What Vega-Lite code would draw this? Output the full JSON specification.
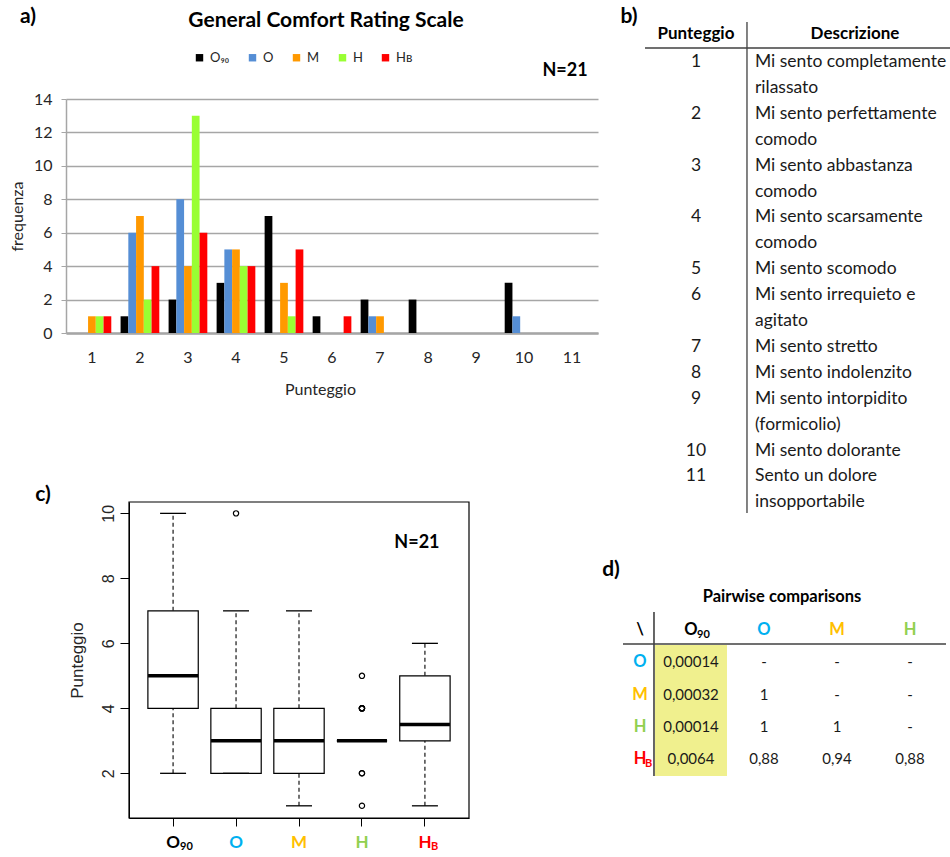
{
  "$schema": "https://vega.github.io/schema/vega-lite/v6.json",
  "width": 950,
  "height": 857,
  "padding": 0,
  "autosize": {"type": "none"},
  "background": "white",
  "config": {"view": {"stroke": null}, "font": "Lato"},
  "resolve": {
    "scale": {"x": "independent", "y": "independent", "color": "independent"},
    "axis": {"x": "independent", "y": "independent"},
    "legend": {"color": "independent"}
  },
  "layer": [
    {
      "data": {"values": [
        {"g":"O90","lower":2,"q1":4,"median":5,"q3":7,"upper":10},
        {"g":"O","lower":2,"q1":2,"median":3,"q3":4,"upper":7},
        {"g":"M","lower":1,"q1":2,"median":3,"q3":4,"upper":7},
        {"g":"H","lower":3,"q1":3,"median":3,"q3":3,"upper":3},
        {"g":"HB","lower":1,"q1":3,"median":3.5,"q3":5,"upper":6}
      ]},
      "resolve": {"axis": {"x": "independent", "y": "independent"}},
      "layer": [
        {
          "mark": {"type": "rule", "strokeDash": [4, 3], "strokeWidth": 1.1, "color": "black"},
          "encoding": {"x": {"field": "g", "type": "nominal", "axis": null}, "y": {"field": "q3", "type": "quantitative", "axis": null}, "y2": {"field": "upper"}}
        },
        {
          "mark": {"type": "rule", "strokeDash": [4, 3], "strokeWidth": 1.1, "color": "black"},
          "encoding": {"x": {"field": "g", "type": "nominal", "axis": null}, "y": {"field": "lower", "type": "quantitative", "axis": null}, "y2": {"field": "q1"}}
        },
        {
          "mark": {"type": "bar", "fill": "white", "stroke": "black", "strokeWidth": 1.2, "width": {"band": 0.8}, "opacity": 1},
          "encoding": {
            "x": {"field": "g", "type": "nominal", "sort": ["O90","O","M","H","HB"],
              "scale": {"domain": ["O90","O","M","H","HB"], "range": [129, 469], "paddingInner": 0, "paddingOuter": 0.2},
              "axis": {"orient": "bottom", "offset": -39, "title": null, "labelAngle": 0, "tickSize": 8, "tickColor": "black", "domainColor": "black",
                "labelPadding": 8, "labelFontSize": 17, "labelFontWeight": "bold",
                "labelExpr": "datum.value == 'O90' ? 'O' : datum.value == 'HB' ? 'H' : datum.value",
                "labelColor": {"condition": [
                  {"test": "datum.value == 'O'", "value": "#00B0F0"},
                  {"test": "datum.value == 'M'", "value": "#FFC000"},
                  {"test": "datum.value == 'H'", "value": "#92D050"},
                  {"test": "datum.value == 'HB'", "value": "#FF0000"}
                ], "value": "#000000"}}},
            "y": {"field": "q1", "type": "quantitative",
              "scale": {"domain": [0.625, 10.35], "range": [818, 502], "nice": false, "zero": false},
              "axis": {"orient": "left", "offset": -129, "values": [2,4,6,8,10], "grid": false, "tickSize": 9, "tickColor": "black", "domainColor": "black",
                "labelAngle": 270, "labelAlign": "center", "labelBaseline": "bottom", "labelFont": "Liberation Sans", "labelFontSize": 16, "labelColor": "#262626", "labelPadding": 4,
                "title": "Punteggio", "titleFont": "Liberation Sans", "titleFontSize": 17, "titleFontWeight": "normal", "titleColor": "#262626", "titleX": -52, "titleBaseline": "middle"}},
            "y2": {"field": "q3"}
          }
        },
        {
          "data": {"values": [{}]},
          "mark": {"type": "rect", "fill": null, "fillOpacity": 0, "stroke": "black", "strokeWidth": 1.2},
          "encoding": {
            "x": {"datum": "O90", "type": "nominal", "bandPosition": -0.2, "axis": null},
            "x2": {"datum": "HB", "bandPosition": 1.2},
            "y": {"datum": 0.625, "type": "quantitative", "axis": null},
            "y2": {"datum": 10.35}
          }
        },
        {
          "mark": {"type": "tick", "color": "black", "thickness": 3.5, "size": 50, "opacity": 1},
          "encoding": {"x": {"field": "g", "type": "nominal", "axis": null}, "y": {"field": "median", "type": "quantitative", "axis": null}}
        },
        {
          "mark": {"type": "tick", "color": "black", "thickness": 1.3, "size": 26, "opacity": 1},
          "encoding": {"x": {"field": "g", "type": "nominal", "axis": null}, "y": {"field": "upper", "type": "quantitative", "axis": null}}
        },
        {
          "mark": {"type": "tick", "color": "black", "thickness": 1.3, "size": 26, "opacity": 1},
          "encoding": {"x": {"field": "g", "type": "nominal", "axis": null}, "y": {"field": "lower", "type": "quantitative", "axis": null}}
        },
        {
          "data": {"values": [
            {"g":"O","v":10},
            {"g":"H","v":1},{"g":"H","v":2},{"g":"H","v":2},
            {"g":"H","v":4},{"g":"H","v":4},{"g":"H","v":4},{"g":"H","v":4},
            {"g":"H","v":5}
          ]},
          "mark": {"type": "point", "filled": false, "color": "black", "size": 28, "strokeWidth": 1.2, "opacity": 1},
          "encoding": {
            "x": {"field": "g", "type": "nominal", "axis": null},
            "y": {"field": "v", "type": "quantitative", "axis": null}
          }
        },
        {
          "data": {"values": [{}]},
          "mark": {"type": "text", "fontSize": 18, "fontWeight": "bold", "dx": -8},
          "encoding": {"x": {"datum": "HB", "type": "nominal", "axis": null}, "y": {"datum": 9.09, "type": "quantitative", "axis": null}, "text": {"value": "N=21"}}
        },
        {
          "data": {"values": [{}]},
          "mark": {"type": "text", "fontSize": 21, "fontWeight": "bold", "dx": -130},
          "encoding": {"x": {"datum": "O90", "type": "nominal", "axis": null}, "y": {"datum": 10.57, "type": "quantitative", "axis": null}, "text": {"value": "c)"}}
        },
        {
          "data": {"values": [{}]},
          "mark": {"type": "text", "fontSize": 11, "fontWeight": "bold", "align": "left", "dx": 7, "color": "#000000"},
          "encoding": {"x": {"datum": "O90", "type": "nominal", "axis": null}, "y": {"datum": -0.27, "type": "quantitative", "axis": null}, "text": {"value": "90"}}
        },
        {
          "data": {"values": [{}]},
          "mark": {"type": "text", "fontSize": 11, "fontWeight": "bold", "align": "left", "dx": 6, "color": "#FF0000"},
          "encoding": {"x": {"datum": "HB", "type": "nominal", "axis": null}, "y": {"datum": -0.27, "type": "quantitative", "axis": null}, "text": {"value": "B"}}
        }
      ]
    },
    {
      "data": {"values": [
        {"p":1,"g":"O90","n":0},{"p":1,"g":"O","n":0},{"p":1,"g":"M","n":1},{"p":1,"g":"H","n":1},{"p":1,"g":"HB","n":1},
        {"p":2,"g":"O90","n":1},{"p":2,"g":"O","n":6},{"p":2,"g":"M","n":7},{"p":2,"g":"H","n":2},{"p":2,"g":"HB","n":4},
        {"p":3,"g":"O90","n":2},{"p":3,"g":"O","n":8},{"p":3,"g":"M","n":4},{"p":3,"g":"H","n":13},{"p":3,"g":"HB","n":6},
        {"p":4,"g":"O90","n":3},{"p":4,"g":"O","n":5},{"p":4,"g":"M","n":5},{"p":4,"g":"H","n":4},{"p":4,"g":"HB","n":4},
        {"p":5,"g":"O90","n":7},{"p":5,"g":"O","n":0},{"p":5,"g":"M","n":3},{"p":5,"g":"H","n":1},{"p":5,"g":"HB","n":5},
        {"p":6,"g":"O90","n":1},{"p":6,"g":"O","n":0},{"p":6,"g":"M","n":0},{"p":6,"g":"H","n":0},{"p":6,"g":"HB","n":1},
        {"p":7,"g":"O90","n":2},{"p":7,"g":"O","n":1},{"p":7,"g":"M","n":1},{"p":7,"g":"H","n":0},{"p":7,"g":"HB","n":0},
        {"p":8,"g":"O90","n":2},{"p":8,"g":"O","n":0},{"p":8,"g":"M","n":0},{"p":8,"g":"H","n":0},{"p":8,"g":"HB","n":0},
        {"p":9,"g":"O90","n":0},{"p":9,"g":"O","n":0},{"p":9,"g":"M","n":0},{"p":9,"g":"H","n":0},{"p":9,"g":"HB","n":0},
        {"p":10,"g":"O90","n":3},{"p":10,"g":"O","n":1},{"p":10,"g":"M","n":0},{"p":10,"g":"H","n":0},{"p":10,"g":"HB","n":0},
        {"p":11,"g":"O90","n":0},{"p":11,"g":"O","n":0},{"p":11,"g":"M","n":0},{"p":11,"g":"H","n":0},{"p":11,"g":"HB","n":0}
      ]},
      "resolve": {"axis": {"x": "independent", "y": "independent"}},
      "layer": [
        {
          "mark": {"type": "bar"},
          "encoding": {
            "x": {"field": "p", "type": "ordinal", "sort": [1,2,3,4,5,6,7,8,9,10,11],
              "scale": {"domain": [1,2,3,4,5,6,7,8,9,10,11], "range": [66, 598], "paddingOuter": 0.04, "paddingInner": 0},
              "axis": {"orient": "bottom", "offset": -524, "tickSize": 0, "tickColor": "#A6A6A6", "domainColor": "#A6A6A6", "domainWidth": 2.5,
                "labelPadding": 16, "labelFontSize": 16, "labelAngle": 0, "labelColor": "#262626",
                "title": "Punteggio", "titleFontSize": 16, "titleFontWeight": "normal", "titleColor": "#262626", "titlePadding": 16, "titleX": 320}},
            "xOffset": {"field": "g", "type": "nominal", "sort": ["O90","O","M","H","HB"],
              "scale": {"domain": ["O90","O","M","H","HB"], "paddingOuter": 0.6, "paddingInner": 0}},
            "y": {"field": "n", "type": "quantitative",
              "scale": {"domain": [0, 14], "range": [333, 99], "nice": false, "zero": false},
              "axis": {"orient": "left", "offset": -66, "values": [0,2,4,6,8,10,12,14], "grid": true, "gridColor": "#A6A6A6", "gridWidth": 1.3,
                "domainColor": "#A6A6A6", "domainWidth": 1.5, "tickColor": "#A6A6A6", "tickSize": 5, "labelPadding": 9, "labelFontSize": 16, "labelColor": "#262626",
                "title": "frequenza", "titleFontSize": 16, "titleFontWeight": "normal", "titleColor": "#262626", "titleX": -49, "titleBaseline": "middle"}},
            "color": {"field": "g", "type": "nominal",
              "scale": {"domain": ["O90","O","M","H","HB"], "range": ["#000000","#558ED5","#FF9900","#99FF33","#FF0000"]},
              "legend": {"orient": "none", "legendX": 193, "legendY": 51, "direction": "horizontal", "title": null,
                "symbolType": "square", "symbolSize": 55, "symbolStrokeWidth": 0, "labelFontSize": 13, "columnPadding": 16, "labelColor": "#262626",
                "labelExpr": "datum.label == 'O90' ? 'O₉₀' : datum.label == 'HB' ? 'Hʙ' : datum.label"}}
          }
        },
        {
          "data": {"values": [{}]},
          "mark": {"type": "text", "fontSize": 21, "fontWeight": "bold", "dx": -6},
          "encoding": {"x": {"datum": 6, "type": "ordinal", "axis": null}, "y": {"datum": 18.67, "type": "quantitative", "axis": null},
            "text": {"value": "General Comfort Rating Scale"}}
        },
        {
          "data": {"values": [{}]},
          "mark": {"type": "text", "fontSize": 21, "fontWeight": "bold", "dx": -64},
          "encoding": {"x": {"datum": 1, "type": "ordinal", "axis": null}, "y": {"datum": 18.9, "type": "quantitative", "axis": null},
            "text": {"value": "a)"}}
        },
        {
          "data": {"values": [{}]},
          "mark": {"type": "text", "fontSize": 18, "fontWeight": "bold", "dx": -7},
          "encoding": {"x": {"datum": 11, "type": "ordinal", "axis": null}, "y": {"datum": 15.7, "type": "quantitative", "axis": null},
            "text": {"value": "N=21"}}
        }
      ]
    },
    {
      "data": {"values": [
        {"line":0,"score":"1","desc":"Mi sento completamente"},
        {"line":1,"score":"","desc":"rilassato"},
        {"line":2,"score":"2","desc":"Mi sento perfettamente"},
        {"line":3,"score":"","desc":"comodo"},
        {"line":4,"score":"3","desc":"Mi sento abbastanza"},
        {"line":5,"score":"","desc":"comodo"},
        {"line":6,"score":"4","desc":"Mi sento scarsamente"},
        {"line":7,"score":"","desc":"comodo"},
        {"line":8,"score":"5","desc":"Mi sento scomodo"},
        {"line":9,"score":"6","desc":"Mi sento irrequieto e"},
        {"line":10,"score":"","desc":"agitato"},
        {"line":11,"score":"7","desc":"Mi sento stretto"},
        {"line":12,"score":"8","desc":"Mi sento indolenzito"},
        {"line":13,"score":"9","desc":"Mi sento intorpidito"},
        {"line":14,"score":"","desc":"(formicolio)"},
        {"line":15,"score":"10","desc":"Mi sento dolorante"},
        {"line":16,"score":"11","desc":"Sento un dolore"},
        {"line":17,"score":"","desc":"insopportabile"}
      ]},
      "layer": [
        {
          "data": {"values": [{}]},
          "mark": {"type": "rule", "color": "#595959", "strokeWidth": 1.5},
          "encoding": {
            "x": {"datum": 0.3848, "type": "quantitative", "scale": {"domain": [0, 1], "range": [620, 950], "nice": false, "zero": false}, "axis": null},
            "y": {"datum": -1.544, "type": "quantitative", "scale": {"domain": [0, 17], "range": [62, 502.3], "nice": false, "zero": false}, "axis": null},
            "y2": {"datum": 17.41}
          }
        },
        {
          "data": {"values": [{}]},
          "mark": {"type": "rule", "color": "#404040", "strokeWidth": 1.5},
          "encoding": {
            "x": {"datum": 0.0758, "type": "quantitative", "axis": null},
            "x2": {"datum": 1.0},
            "y": {"datum": -0.54, "type": "quantitative", "axis": null}
          }
        },
        {
          "data": {"values": [{}]},
          "mark": {"type": "text", "fontSize": 17, "fontWeight": "bold"},
          "encoding": {"x": {"datum": 0.2303, "type": "quantitative", "axis": null}, "y": {"datum": -1.081, "type": "quantitative", "axis": null}, "text": {"value": "Punteggio"}}
        },
        {
          "data": {"values": [{}]},
          "mark": {"type": "text", "fontSize": 17, "fontWeight": "bold"},
          "encoding": {"x": {"datum": 0.7121, "type": "quantitative", "axis": null}, "y": {"datum": -1.081, "type": "quantitative", "axis": null}, "text": {"value": "Descrizione"}}
        },
        {
          "data": {"values": [{}]},
          "mark": {"type": "text", "fontSize": 21, "fontWeight": "bold"},
          "encoding": {"x": {"datum": 0.0273, "type": "quantitative", "axis": null}, "y": {"datum": -1.737, "type": "quantitative", "axis": null}, "text": {"value": "b)"}}
        },
        {
          "mark": {"type": "text", "fontSize": 17.5, "color": "#1a1a1a"},
          "encoding": {"x": {"datum": 0.2303, "type": "quantitative", "axis": null}, "y": {"field": "line", "type": "quantitative", "axis": null}, "text": {"field": "score", "type": "nominal"}}
        },
        {
          "mark": {"type": "text", "fontSize": 17.5, "align": "left", "color": "#1a1a1a"},
          "encoding": {"x": {"datum": 0.409, "type": "quantitative", "axis": null}, "y": {"field": "line", "type": "quantitative", "axis": null}, "text": {"field": "desc", "type": "nominal"}}
        }
      ]
    },
    {
      "data": {"values": [
        {"r":1,"c":1,"t":"0,00014"},{"r":1,"c":2,"t":"-"},{"r":1,"c":3,"t":"-"},{"r":1,"c":4,"t":"-"},
        {"r":2,"c":1,"t":"0,00032"},{"r":2,"c":2,"t":"1"},{"r":2,"c":3,"t":"-"},{"r":2,"c":4,"t":"-"},
        {"r":3,"c":1,"t":"0,00014"},{"r":3,"c":2,"t":"1"},{"r":3,"c":3,"t":"1"},{"r":3,"c":4,"t":"-"},
        {"r":4,"c":1,"t":"0,0064"},{"r":4,"c":2,"t":"0,88"},{"r":4,"c":3,"t":"0,94"},{"r":4,"c":4,"t":"0,88"}
      ]},
      "layer": [
        {
          "data": {"values": [{}]},
          "mark": {"type": "rect", "color": "#F0F08E"},
          "encoding": {
            "x": {"datum": 0.507, "type": "quantitative", "scale": {"domain": [0, 4], "range": [618, 910], "nice": false, "zero": false}, "axis": null},
            "x2": {"datum": 1.493},
            "y": {"datum": 0.465, "type": "quantitative", "scale": {"domain": [0, 4], "range": [630, 759], "nice": false, "zero": false}, "axis": null},
            "y2": {"datum": 4.527}
          }
        },
        {
          "data": {"values": [{}]},
          "mark": {"type": "rule", "color": "#404040", "strokeWidth": 1.6},
          "encoding": {"x": {"datum": 0.493, "type": "quantitative", "axis": null}, "y": {"datum": -0.558, "type": "quantitative", "axis": null}, "y2": {"datum": 4.527}}
        },
        {
          "data": {"values": [{}]},
          "mark": {"type": "rule", "color": "#404040", "strokeWidth": 1.6},
          "encoding": {"x": {"datum": 0.0685, "type": "quantitative", "axis": null}, "x2": {"datum": 4.493}, "y": {"datum": 0.434, "type": "quantitative", "axis": null}}
        },
        {
          "mark": {"type": "text", "fontSize": 15, "color": "#1a1a1a"},
          "encoding": {"x": {"field": "c", "type": "quantitative", "axis": null}, "y": {"field": "r", "type": "quantitative", "axis": null}, "text": {"field": "t", "type": "nominal"}}
        },
        {
          "data": {"values": [
            {"c":1,"t":"O","g":"O90"},{"c":2,"t":"O","g":"O"},{"c":3,"t":"M","g":"M"},{"c":4,"t":"H","g":"H"}
          ]},
          "mark": {"type": "text", "fontSize": 16.5, "fontWeight": "bold"},
          "encoding": {
            "x": {"field": "c", "type": "quantitative", "axis": null},
            "y": {"datum": 0, "type": "quantitative", "axis": null},
            "text": {"field": "t", "type": "nominal"},
            "color": {"field": "g", "type": "nominal", "scale": {"domain": ["O90","O","M","H","HB"], "range": ["#000000","#00B0F0","#FFC000","#92D050","#FF0000"]}, "legend": null}
          }
        },
        {
          "data": {"values": [
            {"r":1,"t":"O","g":"O"},{"r":2,"t":"M","g":"M"},{"r":3,"t":"H","g":"H"},{"r":4,"t":"H","g":"HB"}
          ]},
          "mark": {"type": "text", "fontSize": 16.5, "fontWeight": "bold", "dx": 22},
          "encoding": {
            "x": {"datum": 0, "type": "quantitative", "axis": null},
            "y": {"field": "r", "type": "quantitative", "axis": null},
            "text": {"field": "t", "type": "nominal"},
            "color": {"field": "g", "type": "nominal", "legend": null}
          }
        },
        {
          "data": {"values": [{}]},
          "mark": {"type": "text", "fontSize": 16.5, "fontWeight": "bold", "dx": 22},
          "encoding": {"x": {"datum": 0, "type": "quantitative", "axis": null}, "y": {"datum": 0, "type": "quantitative", "axis": null}, "text": {"value": "\\"}}
        },
        {
          "data": {"values": [{}]},
          "mark": {"type": "text", "fontSize": 11, "fontWeight": "bold", "align": "left", "dx": 6, "dy": 5, "color": "#000000"},
          "encoding": {"x": {"datum": 1, "type": "quantitative", "axis": null}, "y": {"datum": 0, "type": "quantitative", "axis": null}, "text": {"value": "90"}}
        },
        {
          "data": {"values": [{}]},
          "mark": {"type": "text", "fontSize": 11, "fontWeight": "bold", "align": "left", "dx": 27, "dy": 5, "color": "#FF0000"},
          "encoding": {"x": {"datum": 0, "type": "quantitative", "axis": null}, "y": {"datum": 4, "type": "quantitative", "axis": null}, "text": {"value": "B"}}
        },
        {
          "data": {"values": [{}]},
          "mark": {"type": "text", "fontSize": 16.5, "fontWeight": "bold"},
          "encoding": {"x": {"datum": 2.247, "type": "quantitative", "axis": null}, "y": {"datum": -1.023, "type": "quantitative", "axis": null}, "text": {"value": "Pairwise comparisons"}}
        },
        {
          "data": {"values": [{}]},
          "mark": {"type": "text", "fontSize": 21, "fontWeight": "bold"},
          "encoding": {"x": {"datum": -0.096, "type": "quantitative", "axis": null}, "y": {"datum": -1.86, "type": "quantitative", "axis": null}, "text": {"value": "d)"}}
        }
      ]
    }
  ]
}
